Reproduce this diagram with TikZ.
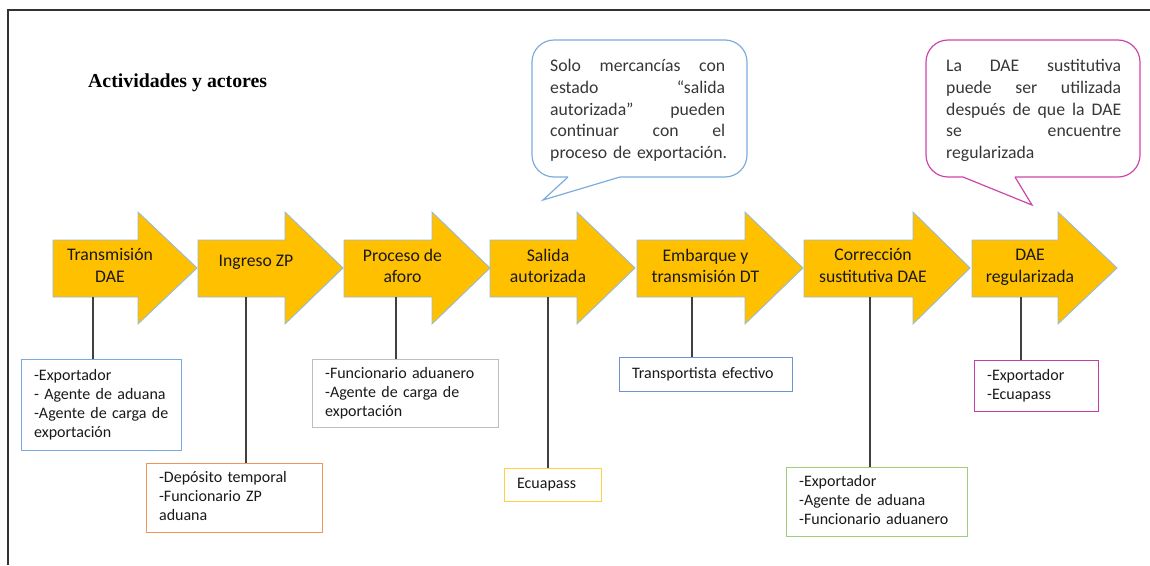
\documentclass[tikz,border=0pt]{standalone}
\usepackage{fontspec}
\setmainfont{Carlito}
\newfontfamily\titlefont{Liberation Serif}
\definecolor{arrowfill}{RGB}{255,192,0}
\definecolor{arrowedge}{RGB}{150,185,220}
\definecolor{textdark}{RGB}{25,25,25}
\definecolor{calltext}{RGB}{55,55,55}
\definecolor{connc}{RGB}{64,64,64}
\definecolor{framec}{RGB}{50,50,50}
\definecolor{cblue}{RGB}{125,172,222}
\definecolor{cmag}{RGB}{205,70,170}
\definecolor{bblue}{RGB}{120,170,225}
\definecolor{borange}{RGB}{240,150,90}
\definecolor{bgray}{RGB}{190,190,190}
\definecolor{byellow}{RGB}{255,208,70}
\definecolor{bblue2}{RGB}{110,145,210}
\definecolor{bgreen}{RGB}{160,205,120}
\definecolor{bmag}{RGB}{200,60,165}
\newcommand\jline[1]{\noindent\hbox to 175pt{\strut#1}\par}
\begin{document}
\begin{tikzpicture}[x=1pt,y=-1pt,
  arrowshape/.style={fill=arrowfill, draw=arrowedge, line width=0.9pt, line join=miter},
  atext/.style={font=\fontsize{17.7}{21.7}\selectfont, text=textdark, align=center, inner sep=0pt,
    execute at begin node={\noindent\strut}, execute at end node=\strut},
  actor/.style={draw=#1, line width=1.2pt, anchor=north west, font=\fontsize{16}{19}\selectfont,
    text=textdark, align=left, inner xsep=12.5pt, inner ysep=0pt,
    execute at begin node={\noindent\strut}, execute at end node=\strut},
  conn/.style={draw=connc, line width=1.2pt},
  bubble/.style={draw=#1, line width=1.2pt, rounded corners=22pt, fill=white},
  tail/.style={draw=#1, line width=1.2pt, line join=miter},
  ctext/.style={anchor=north west, text width=175pt, inner sep=0pt,
    font=\fontsize{17.7}{21.6}\selectfont, text=calltext},
  frame/.style={draw=framec, line width=1.6pt}]
\useasboundingbox (0,0) rectangle (1150,565);

% frame
\draw[frame] (8,565) -- (8,10) -- (1150,10);

% title
\node[anchor=base west, inner sep=0pt, font=\titlefont\bfseries\fontsize{19.8}{24}\selectfont, text=black] (title) at (88,87.3) {Actividades y actores};

% callout 1
\draw[bubble=cblue] (532,40) rectangle (747,177);
\fill[white] (568,177) -- (543,200) -- (620,177) -- (620,171) -- (568,171) -- cycle;
\draw[tail=cblue] (568,177) -- (543,200) -- (620,177);
\node[ctext] (c1) at (550,56.6) {%
\jline{Solo\hfill mercancías\hfill con}%
\jline{estado\hfill “salida}%
\jline{autorizada”\hfill pueden}%
\jline{continuar\hfill con\hfill el}%
\jline{proceso de exportación.\hfill}};

% callout 2
\draw[bubble=cmag] (926,40) rectangle (1140,177);
\fill[white] (963,177) -- (1032,205) -- (1015,177) -- (1015,171) -- (963,171) -- cycle;
\draw[tail=cmag] (963,177) -- (1032,205) -- (1015,177);
\node[ctext] (c2) at (946,56.6) {%
\jline{La\hfill DAE\hfill sustitutiva}%
\jline{puede\hfill ser\hfill utilizada}%
\jline{después\hfill de\hfill que\hfill la\hfill DAE}%
\jline{se\hfill encuentre}%
\jline{regularizada\hfill}};

% arrows
\draw[arrowshape] (53,240) -- (138,240) -- (138,212) -- (197,268) -- (138,324) -- (138,297) -- (53,297) -- cycle;
\draw[arrowshape] (198,240) -- (285,240) -- (285,212) -- (343,268) -- (285,324) -- (285,297) -- (198,297) -- cycle;
\draw[arrowshape] (344,240) -- (432,240) -- (432,212) -- (490,268) -- (432,324) -- (432,297) -- (344,297) -- cycle;
\draw[arrowshape] (490,240) -- (577,240) -- (577,212) -- (635,268) -- (577,324) -- (577,297) -- (490,297) -- cycle;
\draw[arrowshape] (637,240) -- (745,240) -- (745,212) -- (803,268) -- (745,324) -- (745,297) -- (637,297) -- cycle;
\draw[arrowshape] (804,240) -- (913,240) -- (913,212) -- (970,268) -- (913,324) -- (913,297) -- (804,297) -- cycle;
\draw[arrowshape] (972,240) -- (1058,240) -- (1058,212) -- (1117,268) -- (1058,324) -- (1058,297) -- (972,297) -- cycle;

\node[atext] (a1) at (110,269) {Transmisión\\DAE};
\node[atext] (a2) at (256,262.3) {Ingreso ZP};
\node[atext] (a3) at (402.5,269) {Proceso de\\aforo};
\node[atext] (a4) at (548,269) {Salida\\autorizada};
\node[atext] (a5) at (705.5,269) {Embarque y\\transmisión DT};
\node[atext] (a6) at (873,269) {Corrección\\sustitutiva DAE};
\node[atext] (a7) at (1030,269) {DAE\\regularizada};

% actor boxes
\node[actor=bblue, text width=135pt, minimum height=91pt] (b1) at (21,359)
  {-Exportador\\- Agente de aduana\\-Agente de carga de\\exportación};
\node[actor=borange, text width=151pt, minimum height=69pt] (b2) at (146,463)
  {-Depósito temporal\\-Funcionario ZP\\aduana};
\node[actor=bgray, text width=161pt, minimum height=68pt] (b3) at (312,359)
  {-Funcionario aduanero\\-Agente de carga de\\exportación};
\node[actor=byellow, text width=72pt, minimum height=33pt] (b4) at (504,468)
  {Ecuapass};
\node[actor=bblue2, text width=148pt, minimum height=34pt] (b5) at (619,357)
  {Transportista efectivo};
\node[actor=bgreen, text width=156pt, minimum height=69pt] (b6) at (786,467)
  {-Exportador\\-Agente de aduana\\-Funcionario aduanero};
\node[actor=bmag, text width=99pt, minimum height=51pt] (b7) at (974,360)
  {-Exportador\\-Ecuapass};

% connectors
\coordinate (s1) at (93,297);
\coordinate (s2) at (246,297);
\coordinate (s3) at (396,297);
\coordinate (s4) at (548,297);
\coordinate (s5) at (692,297);
\coordinate (s6) at (870,297);
\coordinate (s7) at (1021,297);
\draw[conn] (s1) -- (s1 |- b1.north);
\draw[conn] (s2) -- (s2 |- b2.north);
\draw[conn] (s3) -- (s3 |- b3.north);
\draw[conn] (s4) -- (s4 |- b4.north);
\draw[conn] (s5) -- (s5 |- b5.north);
\draw[conn] (s6) -- (s6 |- b6.north);
\draw[conn] (s7) -- (s7 |- b7.north);
\end{tikzpicture}
\end{document}
